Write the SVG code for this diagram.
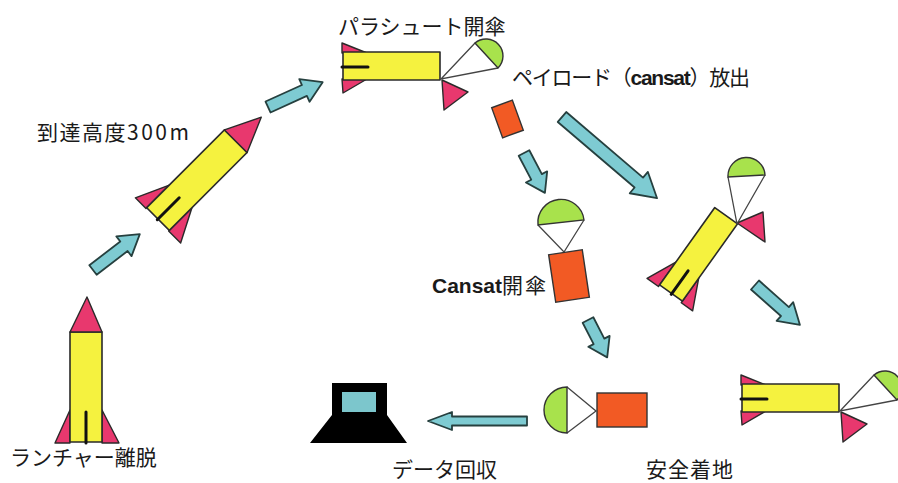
<svg xmlns="http://www.w3.org/2000/svg" xmlns:xlink="http://www.w3.org/1999/xlink" width="898" height="483" viewBox="0 0 898 483">
  <style>
    .body{fill:#f5f23f;stroke:#2a2a2a;stroke-width:1.6;stroke-linejoin:round}
    .fin{fill:#e8386e;stroke:#2a2a2a;stroke-width:1.4;stroke-linejoin:round}
    .mark{stroke:#111;stroke-width:3;stroke-linecap:round}
    .chute{fill:#a8e24c;stroke:#333;stroke-width:1.4}
    .cord{fill:none;stroke:#444;stroke-width:1.3}
    .pay{fill:#f25a24;stroke:#333;stroke-width:1.4}
    .arrow{fill:#7ecbd2;stroke:#26403f;stroke-width:1.8;stroke-linejoin:round}
    .lbl{font-family:"Noto Sans CJK JP","Noto Sans",sans-serif;font-size:21px;fill:#1a1a1a}
    .lat{font-family:"Liberation Sans",Arial,sans-serif;font-weight:bold}
  </style>
  <defs>
    <!-- upright rocket, origin at bottom centre of the body -->
    <g id="rocket">
      <polygon class="fin" points="-16,-32 -31,1 -16,1"/>
      <polygon class="fin" points="16,-32 33,1 16,1"/>
      <rect class="body" x="-16" y="-110" width="32" height="110"/>
      <polygon class="fin" points="-16,-110 16,-110 1,-145"/>
      <line class="mark" x1="0" y1="-30" x2="0" y2="1"/>
    </g>
    <!-- horizontal rocket with nose cone released under a parachute -->
    <g id="rocketChute">
      <polygon class="fin" points="342,43 367,53 342,53"/>
      <polygon class="fin" points="342,79 367,79 343,93"/>
      <rect class="body" x="343" y="52" width="97" height="28"/>
      <line class="mark" x1="342" y1="67" x2="368" y2="67"/>
      <polygon class="fin" points="442,80 468,92 444,110"/>
      <polyline class="cord" points="475,43 441,79 498,68"/>
      <path class="chute" d="M475,43 A17,17 0 0 1 498,68 Z"/>
    </g>
  </defs>

  <!-- flight path arrows -->
  <g id="connectors">
    <path class="arrow" transform="translate(93,270) rotate(-37.5)" d="M0,-6 H39 V-12.5 L59,0 L39,12.5 V6 H0 Z"/>
    <path class="arrow" transform="translate(268,107) rotate(-24.4)" d="M0,-6 H40 V-12.5 L60,0 L40,12.5 V6 H0 Z"/>
    <path class="arrow" transform="translate(562,117) rotate(40.5)" d="M0,-6.5 H101 V-14 L125,0 L101,14 V6.5 H0 Z"/>
    <path class="arrow" transform="translate(524,153) rotate(62.3)" d="M0,-6 H27 V-12 L45,0 L27,12 V6 H0 Z"/>
    <path class="arrow" transform="translate(588,320) rotate(62.8)" d="M0,-6 H24 V-12 L42,0 L24,12 V6 H0 Z"/>
    <path class="arrow" transform="translate(755,285) rotate(41.6)" d="M0,-6 H40 V-12.5 L60,0 L40,12.5 V6 H0 Z"/>
    <path class="arrow" transform="translate(527,421) rotate(180)" d="M0,-4.5 H75 V-9 L99,0 L75,9 V4.5 H0 Z"/>
  </g>

  <!-- launch -->
  <g id="launch">
    <use xlink:href="#rocket" href="#rocket" transform="translate(86,442)"/>
    <text class="lbl" x="10" y="465" font-size="21.5">ランチャー離脱</text>
  </g>

  <!-- apogee -->
  <g id="apogee">
    <use xlink:href="#rocket" href="#rocket" transform="translate(158,219) rotate(45)"/>
    <text class="lbl" x="37" y="140" font-size="22"><tspan letter-spacing="1.5">到達高度</tspan><tspan letter-spacing="2.5">300m</tspan></text>
  </g>

  <!-- parachute deployment -->
  <g id="deploy">
    <use xlink:href="#rocketChute" href="#rocketChute"/>
    <text class="lbl" x="338" y="34" font-size="20.5">パラシュート開傘</text>
  </g>

  <!-- payload release -->
  <g id="release">
    <rect class="pay" x="-11" y="-16" width="22" height="32" transform="translate(507.5,119) rotate(-20)"/>
    <text class="lbl" x="512" y="85" font-size="20" textLength="238" lengthAdjust="spacing">ペイロード（<tspan class="lat">cansat</tspan>）放出</text>
  </g>

  <!-- rocket descending -->
  <g id="descent">
    <g transform="translate(671,293) rotate(35.5)">
      <polygon class="fin" points="-14,-28 -28,2 -14,2"/>
      <polygon class="fin" points="14,-28 28,2 14,2"/>
      <rect class="body" x="-14" y="-95" width="28" height="95"/>
      <line class="mark" x1="1" y1="-28" x2="1" y2="1"/>
    </g>
    <polygon class="fin" points="737,223 763,212 765,242"/>
    <polyline class="cord" points="728,177 737,224 765,175"/>
    <path class="chute" d="M728,177 A18.5,18.5 0 0 1 765,175 Z"/>
  </g>

  <!-- cansat parachute -->
  <g id="cansat-chute">
    <polyline class="cord" points="538,225 564,252 584,220"/>
    <path class="chute" d="M538,225 A23,23 0 0 1 584,220 Z"/>
    <rect class="pay" x="-17" y="-24" width="34" height="48" transform="translate(569,276) rotate(-8.5)"/>
    <text class="lbl" x="432" y="293" font-size="22"><tspan class="lat">Cansat</tspan><tspan letter-spacing="2">開傘</tspan></text>
  </g>

  <!-- rocket landed -->
  <g id="rocket-landed">
    <use xlink:href="#rocketChute" href="#rocketChute" transform="translate(399,332)"/>
  </g>

  <!-- cansat landed -->
  <g id="cansat-landed">
    <polyline class="cord" points="567,387 596,411 567,433"/>
    <path class="chute" d="M567,433 A23,23 0 0 1 567,387 Z"/>
    <rect class="pay" x="597" y="393" width="50" height="34"/>
    <text class="lbl" x="646" y="477" font-size="23" letter-spacing="1">安全着地</text>
  </g>

  <!-- ground station -->
  <g id="ground-station">
    <path d="M332,383 H387 V415 L407,443 H310 L332,415 Z" fill="#000"/>
    <rect x="342" y="392" width="34" height="20" fill="#7cc6cc"/>
    <text class="lbl" x="392" y="477" font-size="21.5">データ回収</text>
  </g>
</svg>
